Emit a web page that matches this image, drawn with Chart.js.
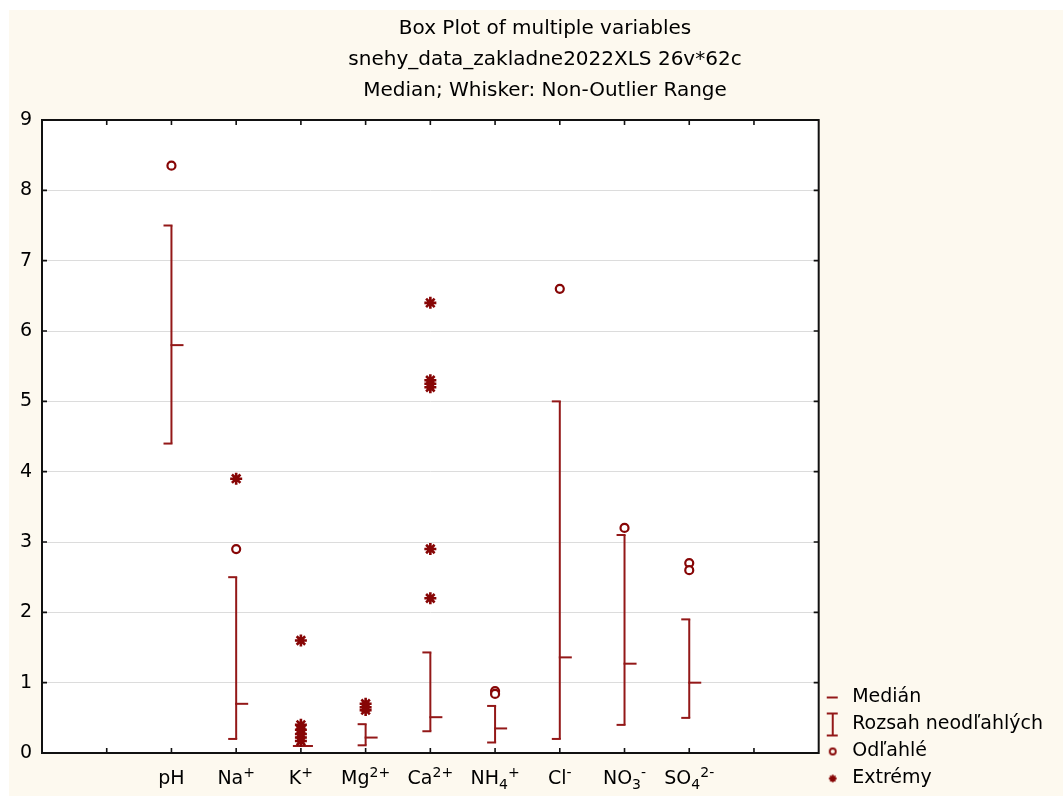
<!DOCTYPE html>
<html>
<head>
<meta charset="utf-8">
<script src="https://cdn.jsdelivr.net/npm/chart.js@4.4.1/dist/chart.umd.min.js"></script>
<style>
  html, body { margin: 0; padding: 0; background: #fff; }
  #frame { position: absolute; left: 9px; top: 10px; width: 1054px; height: 786px; background: #fdf9ef; }
  #chart { display: block; }
</style>
</head>
<body>
<div id="frame"><canvas id="chart" width="1054" height="786"></canvas></div>
<script>
// ── Data ─────────────────────────────────────────────────────────────────────
// x labels: ^{..} = superscript, _{..} = subscript
const variables = ['pH', 'Na^{+}', 'K^{+}', 'Mg^{2+}', 'Ca^{2+}', 'NH_{4}^{+}', 'Cl^{-}', 'NO_{3}^{-}', 'SO_{4}^{2-}'];
const medians = [5.8, 0.7, 0.1, 0.22, 0.51, 0.35, 1.36, 1.27, 1.0];
const whiskerLow = [4.4, 0.2, 0.1, 0.11, 0.31, 0.15, 0.2, 0.4, 0.5];
const whiskerHigh = [7.5, 2.5, 0.1, 0.41, 1.43, 0.67, 5.0, 3.1, 1.9];
const outliers = [[8.35], [2.9], [], [], [], [0.88, 0.84], [6.6], [3.2], [2.7, 2.6]];
const extremes = [[], [3.9], [1.6, 0.4, 0.33, 0.27, 0.22, 0.17], [0.7, 0.65, 0.61], [6.4, 5.3, 5.25, 5.2, 2.9, 2.2], [], [], [], []];

const titleLines = ['Box Plot of multiple variables', 'snehy_data_zakladne2022XLS 26v*62c', 'Median; Whisker: Non-Outlier Range'];
const legendLabels = ['Medián', 'Rozsah neodľahlých', 'Odľahlé', 'Extrémy'];
const yMin = 0, yMax = 9;

// one empty slot on each side of the variables
const SLOT_OFFSET = 2;
const SLOT_COUNT = variables.length + 3;

const MAROON = '#870606';
const WHISKER = '#931818';
const FONT = "'DejaVu Sans', sans-serif";

// ── Marker glyphs (canvas point styles) ──────────────────────────────────────
function glyph(w, h, draw) {
    const c = document.createElement('canvas');
    c.width = w; c.height = h;
    const g = c.getContext('2d');
    g.fillStyle = g.strokeStyle = MAROON;
    draw(g);
    return c;
}

// whisker cap: sticks out to the left of the whisker line
const capGlyph = glyph(20, 4, g => { g.fillStyle = WHISKER; g.fillRect(2, 1, 9, 2); });
// median tick: sticks out to the right
const medianGlyph = glyph(28, 4, g => { g.fillStyle = WHISKER; g.fillRect(13, 1, 13, 2); });

// legend symbols, nudged a little left of the slot centre
const LG = 15, DX = -2;
const legendGlyphs = [
    glyph(30, 4, g => { g.fillStyle = WHISKER; g.fillRect(LG + DX - 6, 1, 11, 2); }),
    glyph(30, 26, g => {
        g.fillStyle = WHISKER;
        g.fillRect(LG + DX - 1, 1, 2, 24);
        g.fillRect(LG + DX - 6, 1, 11, 2);
        g.fillRect(LG + DX - 6, 23, 11, 2);
    }),
    glyph(30, 12, g => { g.lineWidth = 1.8; g.beginPath(); g.arc(LG + DX, 6, 3, 0, Math.PI * 2); g.stroke(); }),
    glyph(30, 12, g => {
        g.lineWidth = 1.8;
        const cx = LG + DX, cy = 6, r = 3.8, d = r * Math.SQRT1_2;
        g.beginPath();
        g.moveTo(cx - r, cy); g.lineTo(cx + r, cy);
        g.moveTo(cx, cy - r); g.lineTo(cx, cy + r);
        g.moveTo(cx - d, cy - d); g.lineTo(cx + d, cy + d);
        g.moveTo(cx - d, cy + d); g.lineTo(cx + d, cy - d);
        g.stroke();
    }),
];

// ── Point data built from the arrays above ───────────────────────────────────
const whiskerSegments = [];
const capPoints = [];
const medianPoints = [];
const outlierPoints = [];
const extremePoints = [];
variables.forEach((_, i) => {
    const x = i + SLOT_OFFSET;
    whiskerSegments.push({ x, y: whiskerLow[i] }, { x, y: whiskerHigh[i] }, { x, y: null });
    capPoints.push({ x, y: whiskerLow[i] }, { x, y: whiskerHigh[i] });
    medianPoints.push({ x, y: medians[i] });
    outliers[i].forEach(y => outlierPoints.push({ x, y }));
    extremes[i].forEach(y => extremePoints.push({ x, y }));
});

// ── Rich text for the category labels ────────────────────────────────────────
function parseRich(s) {
    const runs = [];
    const re = /([_^])\{([^}]*)\}|([^_^]+)/g;
    let m;
    while ((m = re.exec(s))) {
        if (m[3]) runs.push({ text: m[3], kind: 'base' });
        else runs.push({ text: m[2], kind: m[1] === '^' ? 'sup' : 'sub' });
    }
    return runs;
}

function drawRich(ctx, s, cx, baseline) {
    const runs = parseRich(s);
    const fontOf = k => (k === 'base' ? `19px ${FONT}` : `14px ${FONT}`);
    let total = 0;
    runs.forEach(r => { ctx.font = fontOf(r.kind); r.w = ctx.measureText(r.text).width; total += r.w; });
    let x = cx - total / 2;
    ctx.textAlign = 'left';
    ctx.textBaseline = 'alphabetic';
    ctx.fillStyle = '#000';
    runs.forEach(r => {
        ctx.font = fontOf(r.kind);
        const dy = r.kind === 'sup' ? -7 : r.kind === 'sub' ? 5 : 0;
        ctx.fillText(r.text, x, baseline + dy);
        x += r.w;
    });
}

// ── Plot frame, inward tick marks and axis labels ────────────────────────────
const plotFrame = {
    id: 'plotFrame',
    beforeDraw(chart) {
        const { ctx, chartArea: a } = chart;
        ctx.save();
        ctx.fillStyle = '#fff';
        ctx.fillRect(a.left, a.top, a.right - a.left, a.bottom - a.top);
        ctx.restore();
    },
    afterDraw(chart) {
        const { ctx, chartArea: a, scales: { x, y } } = chart;
        ctx.save();
        ctx.strokeStyle = '#111';
        ctx.lineWidth = 2;
        ctx.strokeRect(a.left, a.top, a.right - a.left, a.bottom - a.top);

        ctx.lineWidth = 1.6;
        ctx.beginPath();
        y.ticks.forEach(t => {
            const py = y.getPixelForValue(t.value);
            ctx.moveTo(a.left, py); ctx.lineTo(a.left + 5, py);
            ctx.moveTo(a.right, py); ctx.lineTo(a.right - 5, py);
        });
        x.ticks.forEach(t => {
            if (t.value <= 0 || t.value >= SLOT_COUNT) return;
            const px = x.getPixelForValue(t.value);
            ctx.moveTo(px, a.top); ctx.lineTo(px, a.top + 5);
            ctx.moveTo(px, a.bottom); ctx.lineTo(px, a.bottom - 5);
        });
        ctx.stroke();

        // y labels sit in the narrow margin left of the frame
        ctx.font = `19px ${FONT}`;
        ctx.fillStyle = '#000';
        ctx.textAlign = 'right';
        ctx.textBaseline = 'middle';
        y.ticks.forEach(t => ctx.fillText(t.label, a.left - 10, y.getPixelForValue(t.value)));

        variables.forEach((name, i) => drawRich(ctx, name, x.getPixelForValue(i + SLOT_OFFSET), a.bottom + 31));
        ctx.restore();
    },
};

Chart.defaults.font.family = FONT;
Chart.defaults.font.size = 19;
Chart.defaults.color = '#000';

new Chart(document.getElementById('chart'), {
    type: 'scatter',
    data: {
        datasets: [
            { label: 'Extrémy', data: extremePoints, pointStyle: 'star', pointRadius: 6, borderWidth: 2.6, borderColor: MAROON, backgroundColor: MAROON },
            { label: 'Odľahlé', data: outlierPoints, pointStyle: 'circle', pointRadius: 4, borderWidth: 2.2, borderColor: MAROON, backgroundColor: '#fff' },
            { label: 'Medián', data: medianPoints, pointStyle: medianGlyph, pointRadius: 5 },
            { label: 'Caps', data: capPoints, pointStyle: capGlyph, pointRadius: 5 },
            { type: 'line', label: 'Rozsah neodľahlých', data: whiskerSegments, borderColor: WHISKER, borderWidth: 2, pointRadius: 0, spanGaps: false, fill: false },
        ],
    },
    options: {
        responsive: false,
        animation: false,
        events: [],
        layout: { padding: { left: 28, right: 10, top: 0, bottom: 0 } },
        scales: {
            x: {
                type: 'linear',
                min: 0,
                max: SLOT_COUNT,
                ticks: { stepSize: 1, display: false },
                grid: { display: false },
                border: { display: false },
                afterFit: s => { s.height = 43; },
            },
            y: {
                min: yMin,
                max: yMax,
                ticks: { stepSize: 1, display: false },
                grid: { color: '#dcdcdc', lineWidth: 1, drawTicks: false },
                border: { display: false },
                afterFit: s => { s.width = 5; },
            },
        },
        plugins: {
            title: {
                display: true,
                text: titleLines,
                color: '#000',
                font: { size: 20, weight: 'normal', lineHeight: 1.55 },
                padding: { top: 3.5, bottom: 13.5 },
            },
            legend: {
                position: 'right',
                align: 'end',
                labels: {
                    usePointStyle: true,
                    pointStyleWidth: 16,
                    boxHeight: 8,
                    padding: 8,
                    color: '#000',
                    font: { size: 19 },
                    generateLabels: () => legendLabels.map((text, i) => ({
                        text,
                        pointStyle: legendGlyphs[i],
                        fillStyle: MAROON,
                        strokeStyle: MAROON,
                        lineWidth: 0,
                        hidden: false,
                        fontColor: '#000',
                    })),
                },
            },
            tooltip: { enabled: false },
        },
    },
    plugins: [plotFrame],
});
</script>
</body>
</html>
